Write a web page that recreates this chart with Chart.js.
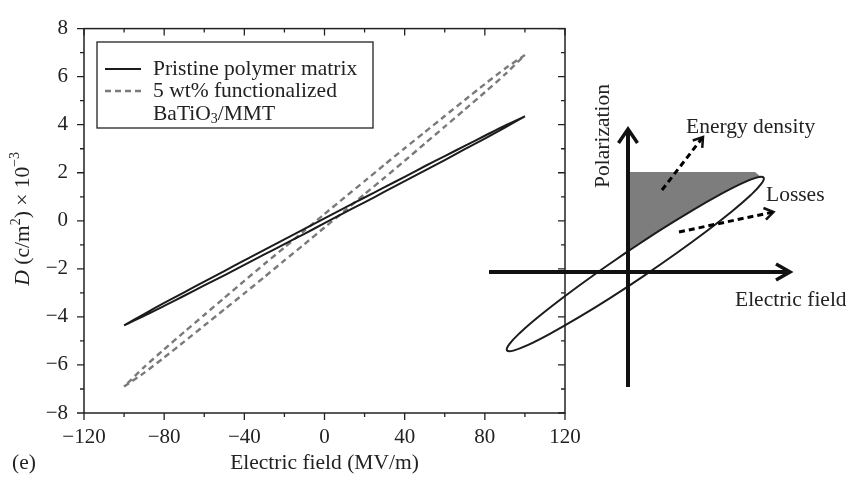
<!DOCTYPE html>
<html>
<head>
<meta charset="utf-8">
<script src="https://cdn.jsdelivr.net/npm/chart.js@4.4.1/dist/chart.umd.min.js"></script>
<style>
  html, body { margin: 0; padding: 0; background: #fff; overflow: hidden; }
  #wrap { position: relative; width: 846px; height: 478px; }
  #main { position: absolute; left: 0; top: 0; }
  #inset { position: absolute; left: 478px; top: 82px; pointer-events: none; }
</style>
</head>
<body>
<div id="wrap">
  <canvas id="main" width="846" height="478"></canvas>
  <canvas id="inset" width="370" height="330"></canvas>
</div>
<script>
// ---- D–E loops (electric field in MV/m, D in c/m² ×10⁻³) ----
const fieldSteps = [-100, -90, -80, -70, -60, -50, -40, -30, -20, -10, 0, 10, 20, 30, 40, 50, 60, 70, 80, 90, 100];

// Pristine polymer matrix: rising branch and returning branch
const pristineRising    = [-4.35, -3.96, -3.54, -3.12, -2.69, -2.27, -1.83, -1.40, -0.97, -0.54, -0.10, 0.34, 0.77, 1.21, 1.65, 2.09, 2.53, 2.98, 3.42, 3.88, 4.35];
const pristineReturning = [-4.35, -3.88, -3.42, -2.98, -2.53, -2.09, -1.65, -1.21, -0.77, -0.34, 0.10, 0.54, 0.97, 1.40, 1.83, 2.27, 2.69, 3.12, 3.54, 3.96, 4.35];

// 5 wt% functionalized BaTiO3/MMT: rising branch and returning branch
const compositeRising    = [-6.90, -6.33, -5.69, -5.03, -4.36, -3.69, -3.02, -2.34, -1.65, -0.97, -0.28, 0.41, 1.11, 1.80, 2.50, 3.21, 3.92, 4.63, 5.35, 6.09, 6.90];
const compositeReturning = [-6.90, -6.09, -5.35, -4.63, -3.92, -3.21, -2.50, -1.80, -1.11, -0.41, 0.28, 0.97, 1.65, 2.34, 3.02, 3.69, 4.36, 5.03, 5.69, 6.33, 6.90];

const seriesNames = ['Pristine polymer matrix', '5 wt% functionalized BaTiO3/MMT'];

const xTickValues = [-120, -80, -40, 0, 40, 80, 120];
const yTickValues = [-8, -6, -4, -2, 0, 2, 4, 6, 8];

// ---- schematic P–E loop (arbitrary units) ----
const sketchLoopField = [-0.09, -3.38, -6.39, -8.92, -10.79, -11.88, -12.10, -11.46, -9.98, -7.77, -4.98, -1.80, 1.55, 4.84, 7.85, 10.38, 12.25, 13.34, 13.56, 12.92, 11.44, 9.23, 6.44, 3.26, -0.09];
const sketchLoopPol   = [2.01, -0.27, -2.47, -4.45, -6.07, -7.23, -7.84, -7.86, -7.29, -6.16, -4.57, -2.61, -0.41, 1.87, 4.07, 6.05, 7.67, 8.83, 9.44, 9.46, 8.89, 7.76, 6.17, 4.21, 2.01];

// stored energy region: bounded by the P axis, the maximum polarization and the discharge branch
const energyField = [0, 12.7, 13.3, 11.44, 9.23, 6.44, 3.26, 0, 0];
const energyPol   = [10.0, 10.0, 9.5, 8.89, 7.76, 6.17, 4.21, 2.0, 10.0];

// axes of the sketch
const sketchFieldAxisX = [-13.9, 16.2];
const sketchPolAxisY   = [-11.5, 14.3];

// dashed pointers
const energyPointerX = [3.4, 7.5];
const energyPointerY = [8.2, 13.5];
const lossPointerX   = [5.1, 14.55];
const lossPointerY   = [4.0, 6.0];

const toPoints = (xs, ys) => xs.map((x, i) => ({ x, y: ys[i] }));
const loopPoints = (rising, returning) =>
  fieldSteps.map((e, i) => ({ x: e, y: rising[i] }))
    .concat(fieldSteps.map((e, i) => ({ x: e, y: returning[i] })).reverse());

const SERIF = "'Liberation Serif', 'Times New Roman', serif";
const INK = '#222';
const LABEL_FONT = '21.5px ' + SERIF;
const SMALL_FONT = '14px ' + SERIF;
Chart.defaults.font.family = SERIF;
Chart.defaults.font.size = 21;
Chart.defaults.color = INK;

const minusFmt = v => (v < 0 ? '\u2212' + Math.abs(v) : String(v));

// draws a run of text pieces (with optional raised/lowered parts) starting at x
function drawRuns(ctx, runs, x, y) {
  for (const r of runs) {
    ctx.font = r.font;
    ctx.fillText(r.text, x, y + (r.dy || 0));
    x += ctx.measureText(r.text).width;
  }
  return x;
}
function runsWidth(ctx, runs) {
  let w = 0;
  for (const r of runs) { ctx.font = r.font; w += ctx.measureText(r.text).width; }
  return w;
}

const framePlugin = {
  id: 'frame',
  afterDatasetsDraw(chart) {
    const { ctx, chartArea: a, scales } = chart;
    const xs = scales.x, ys = scales.y;
    ctx.save();
    ctx.strokeStyle = INK;
    ctx.lineWidth = 1.5;
    ctx.strokeRect(a.left, a.top, a.right - a.left, a.bottom - a.top);

    ctx.lineWidth = 1.3;
    ctx.beginPath();
    // x ticks: outward on bottom, inward on top
    for (let v = xs.min; v <= xs.max; v += 20) {
      const px = xs.getPixelForValue(v);
      const len = (v % 40 === 0) ? 7 : 4;
      ctx.moveTo(px, a.bottom); ctx.lineTo(px, a.bottom + len);
      ctx.moveTo(px, a.top);    ctx.lineTo(px, a.top + len);
    }
    // y ticks: outward on left, inward on right
    for (let v = ys.min; v <= ys.max; v += 1) {
      const py = ys.getPixelForValue(v);
      const len = (v % 2 === 0) ? 7 : 4;
      ctx.moveTo(a.left, py);  ctx.lineTo(a.left - len, py);
      ctx.moveTo(a.right, py); ctx.lineTo(a.right - len, py);
    }
    ctx.stroke();

    // legend
    const ds = chart.data.datasets;
    const lx = 97, ly = 42, lw = 276, lh = 86;
    ctx.lineWidth = 1.3;
    ctx.strokeRect(lx, ly, lw, lh);
    const rows = [69, 91];
    ds.forEach((d, i) => {
      ctx.save();
      ctx.strokeStyle = d.borderColor;
      ctx.lineWidth = d.borderWidth;
      ctx.setLineDash(d.borderDash || []);
      ctx.beginPath();
      ctx.moveTo(105, rows[i]); ctx.lineTo(141, rows[i]);
      ctx.stroke();
      ctx.restore();
    });
    ctx.fillStyle = INK;
    ctx.textBaseline = 'middle';
    ctx.textAlign = 'left';
    drawRuns(ctx, [{ text: seriesNames[0], font: LABEL_FONT }], 153, rows[0]);
    drawRuns(ctx, [{ text: '5 wt% functionalized', font: LABEL_FONT }], 153, rows[1]);
    drawRuns(ctx, [{ text: 'BaTiO', font: LABEL_FONT }, { text: '3', font: SMALL_FONT, dy: 5 }, { text: '/MMT', font: LABEL_FONT }], 153, 114);

    // axis titles
    ctx.textAlign = 'center';
    ctx.font = LABEL_FONT;
    ctx.fillText('Electric field (MV/m)', (a.left + a.right) / 2, 463);
    ctx.textAlign = 'left';
    ctx.fillText('(e)', 12, 463);

    const yRuns = [
      { text: 'D', font: 'italic 21.5px ' + SERIF },
      { text: ' (c/m', font: LABEL_FONT },
      { text: '2', font: SMALL_FONT, dy: -7 },
      { text: ') \u00d7 10', font: LABEL_FONT },
      { text: '\u22123', font: SMALL_FONT, dy: -8 }
    ];
    ctx.translate(23, (a.top + a.bottom) / 2 - 2);
    ctx.rotate(-Math.PI / 2);
    drawRuns(ctx, yRuns, -runsWidth(ctx, yRuns) / 2, 0);
    ctx.restore();
  }
};

new Chart(document.getElementById('main'), {
  type: 'scatter',
  data: {
    datasets: [
      {
        label: seriesNames[0],
        data: loopPoints(pristineRising, pristineReturning),
        showLine: true, pointRadius: 0, tension: 0.2,
        borderColor: '#1c1c1c', borderWidth: 2
      },
      {
        label: seriesNames[1],
        data: loopPoints(compositeRising, compositeReturning),
        showLine: true, pointRadius: 0, tension: 0.2,
        borderColor: '#7a7a7a', borderWidth: 2.4, borderDash: [6, 4]
      }
    ]
  },
  options: {
    responsive: false,
    animation: false,
    layout: { padding: { left: 0, top: 17, right: 281, bottom: 0 } },
    plugins: { legend: { display: false }, tooltip: { enabled: false } },
    scales: {
      x: {
        type: 'linear', min: -120, max: 120,
        afterBuildTicks: s => { s.ticks = xTickValues.map(v => ({ value: v })); },
        ticks: { callback: minusFmt, padding: 12, maxRotation: 0, autoSkip: false },
        grid: { display: false, drawTicks: false },
        border: { display: false },
        afterFit: s => { s.height = 65; }
      },
      y: {
        type: 'linear', min: -8, max: 8,
        afterBuildTicks: s => { s.ticks = yTickValues.map(v => ({ value: v })); },
        ticks: { callback: minusFmt, padding: 16, autoSkip: false },
        grid: { display: false, drawTicks: false },
        border: { display: false },
        afterFit: s => { s.width = 84; }
      }
    }
  },
  plugins: [framePlugin]
});

// ---- schematic P–E loop ----
const sketchText = {
  id: 'sketchText',
  afterDatasetsDraw(chart) {
    const { ctx, scales: { x, y } } = chart;
    ctx.save();
    ctx.fillStyle = INK;
    ctx.font = LABEL_FONT;
    ctx.textBaseline = 'middle';
    ctx.textAlign = 'left';
    ctx.fillText('Energy density', x.getPixelForValue(5.8), y.getPixelForValue(14.5));
    ctx.fillText('Losses', x.getPixelForValue(13.8), y.getPixelForValue(7.7));
    ctx.fillText('Electric field', x.getPixelForValue(10.7), y.getPixelForValue(-2.85));
    ctx.translate(x.getPixelForValue(-2.5), y.getPixelForValue(13.6));
    ctx.rotate(-Math.PI / 2);
    ctx.textAlign = 'center';
    ctx.fillText('Polarization', 0, 0);
    ctx.restore();
  }
};

// arrowhead arms built from the end of a pointer segment
function headPoints(xs, ys, len, half) {
  const x1 = xs[xs.length - 1], y1 = ys[ys.length - 1];
  const x0 = xs[xs.length - 2], y0 = ys[ys.length - 2];
  const d = Math.hypot(x1 - x0, y1 - y0);
  const ux = (x1 - x0) / d, uy = (y1 - y0) / d;
  const bx = x1 - ux * len, by = y1 - uy * len;
  return [
    { x: bx - uy * half, y: by + ux * half },
    { x: x1, y: y1 },
    { x: bx + uy * half, y: by - ux * half }
  ];
}

const lineStyle = { showLine: true, pointRadius: 0, tension: 0, borderColor: '#111' };

// Chart.js paints the first dataset last, so the shaded area is listed at the end (painted first)
new Chart(document.getElementById('inset'), {
  type: 'scatter',
  data: {
    datasets: [
      Object.assign({ data: toPoints(energyPointerX, energyPointerY), borderWidth: 3, borderDash: [6, 4] }, lineStyle, { borderColor: '#000' }),
      Object.assign({ data: headPoints(energyPointerX, energyPointerY, 0.9, 0.6), borderWidth: 2.5 }, lineStyle),
      Object.assign({ data: toPoints(lossPointerX, lossPointerY), borderWidth: 3, borderDash: [6, 4] }, lineStyle, { borderColor: '#000' }),
      Object.assign({ data: headPoints(lossPointerX, lossPointerY, 0.9, 0.6), borderWidth: 2.5 }, lineStyle),
      Object.assign({ data: toPoints(sketchFieldAxisX, [0, 0]), borderWidth: 4 }, lineStyle),
      Object.assign({ data: toPoints([0, 0], sketchPolAxisY), borderWidth: 4 }, lineStyle),
      Object.assign({ data: headPoints(sketchFieldAxisX, [0, 0], 1.4, 0.8), borderWidth: 3.5, borderJoinStyle: 'miter' }, lineStyle),
      Object.assign({ data: headPoints([0, 0], sketchPolAxisY, 1.4, 0.95), borderWidth: 3.5, borderJoinStyle: 'miter' }, lineStyle),
      Object.assign({ data: toPoints(sketchLoopField, sketchLoopPol), borderWidth: 2 }, lineStyle, { tension: 0.4, borderColor: '#1c1c1c' }),
      Object.assign({ data: toPoints(energyField, energyPol), fill: 'shape', backgroundColor: '#7d7d7d', borderWidth: 0 }, lineStyle, { borderColor: 'rgba(0,0,0,0)' })
    ]
  },
  options: {
    responsive: false,
    animation: false,
    layout: { padding: 0 },
    plugins: { legend: { display: false }, tooltip: { enabled: false } },
    scales: {
      x: { type: 'linear', display: false, min: -15, max: 22 },
      y: { type: 'linear', display: false, min: -14, max: 19 }
    }
  },
  plugins: [sketchText]
});
</script>
</body>
</html>
